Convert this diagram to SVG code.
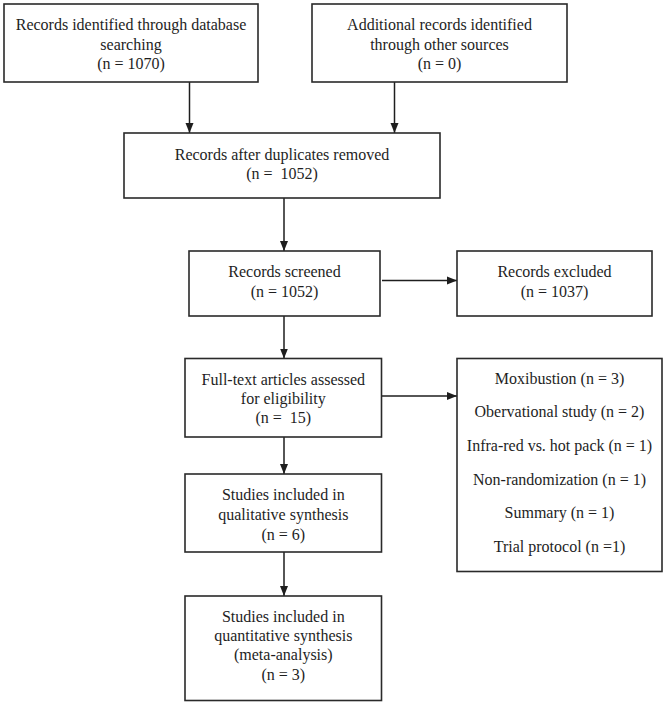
<svg xmlns="http://www.w3.org/2000/svg" width="666" height="705" viewBox="0 0 666 705">
<style>
.box{fill:#fff;stroke:#2a2a2a;stroke-width:1.6}
text{font-family:"Liberation Serif","Times New Roman",serif;font-size:16px;fill:#1e1e1e;text-anchor:middle;white-space:pre}
.c{fill:none;stroke:#1e1e1e;stroke-width:1.5}
</style>
<defs>
<marker id="ah" markerUnits="userSpaceOnUse" markerWidth="10" markerHeight="10" viewBox="0 0 10 10" refX="10" refY="5" orient="auto">
<path d="M0,1 L10,5 L0,9 Z" fill="#1e1e1e"/>
</marker>
</defs>
<rect width="666" height="705" fill="#fff"/>
<g id="connectors">
<line class="c" x1="189.5" y1="82" x2="189.5" y2="133" marker-end="url(#ah)"/>
<line class="c" x1="394.5" y1="82" x2="394.5" y2="133" marker-end="url(#ah)"/>
<line class="c" x1="284" y1="198" x2="284" y2="251" marker-end="url(#ah)"/>
<line class="c" x1="284" y1="316" x2="284" y2="358.5" marker-end="url(#ah)"/>
<line class="c" x1="382" y1="280.5" x2="457" y2="280.5" marker-end="url(#ah)"/>
<line class="c" x1="382" y1="396" x2="457" y2="396" marker-end="url(#ah)"/>
<line class="c" x1="284" y1="437" x2="284" y2="474" marker-end="url(#ah)"/>
<line class="c" x1="284" y1="552" x2="284" y2="596" marker-end="url(#ah)"/>
</g>
<g id="n1">
<rect class="box" x="4" y="4" width="254" height="78"/>
<text x="131" y="30">Records identified through database</text>
<text x="131" y="49.5">searching</text>
<text x="131" y="69">(n = 1070)</text>
</g>
<g id="n2">
<rect class="box" x="312" y="4" width="255" height="78"/>
<text x="439.5" y="30">Additional records identified</text>
<text x="439.5" y="49.5">through other sources</text>
<text x="439.5" y="69">(n = 0)</text>
</g>
<g id="n3">
<rect class="box" x="124" y="133" width="316" height="65"/>
<text x="282" y="159.5">Records after duplicates removed</text>
<text x="282" y="179">(n =&#160; 1052)</text>
</g>
<g id="n4">
<rect class="box" x="189" y="251" width="191" height="65"/>
<text x="284.5" y="277">Records screened</text>
<text x="284.5" y="297">(n = 1052)</text>
</g>
<g id="n5">
<rect class="box" x="457" y="251" width="195" height="65"/>
<text x="554.5" y="277">Records excluded</text>
<text x="554.5" y="297">(n = 1037)</text>
</g>
<g id="n6">
<rect class="box" x="185" y="358.5" width="196.5" height="78.5"/>
<text x="283.3" y="385">Full-text articles assessed</text>
<text x="283.3" y="404">for eligibility</text>
<text x="283.3" y="423">(n =&#160; 15)</text>
</g>
<g id="n7">
<rect class="box" x="457" y="358.5" width="205" height="213"/>
<text x="559.5" y="384">Moxibustion (n = 3)</text>
<text x="559.5" y="417">Obervational study (n = 2)</text>
<text x="559.5" y="451">Infra-red vs. hot pack (n = 1)</text>
<text x="559.5" y="484.5">Non-randomization (n = 1)</text>
<text x="559.5" y="518">Summary (n = 1)</text>
<text x="559.5" y="551.5">Trial protocol (n =1)</text>
</g>
<g id="n8">
<rect class="box" x="185" y="474" width="196.5" height="78"/>
<text x="283.3" y="500">Studies included in</text>
<text x="283.3" y="519.5">qualitative synthesis</text>
<text x="283.3" y="539.5">(n = 6)</text>
</g>
<g id="n9">
<rect class="box" x="185" y="596" width="196.5" height="104.5"/>
<text x="283.3" y="622">Studies included in</text>
<text x="283.3" y="641">quantitative synthesis</text>
<text x="283.3" y="660">(meta-analysis)</text>
<text x="283.3" y="679.5">(n = 3)</text>
</g>
</svg>
